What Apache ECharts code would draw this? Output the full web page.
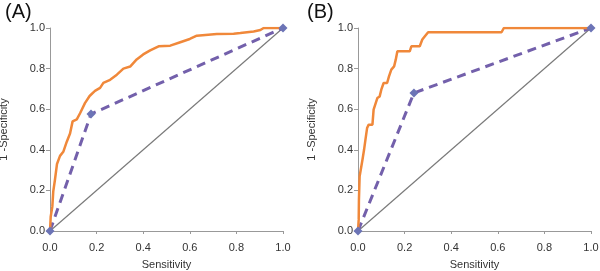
<!DOCTYPE html>
<html>
<head>
<meta charset="utf-8">
<script src="https://cdn.jsdelivr.net/npm/echarts@6/dist/echarts.min.js"></script>
<style>
  html, body { margin: 0; padding: 0; background: #fff; }
  #chart { width: 600px; height: 271px; }
</style>
</head>
<body>
<div id="chart"></div>
<script>
const panelLabels = ['(A)', '(B)']
const tickLabels = ['0.0', '0.2', '0.4', '0.6', '0.8', '1.0']

// orange ROC curves, [sensitivity, 1-specificity]
const rocA = [
  [0, 0], [0.003, 0.07], [0.01, 0.12], [0.014, 0.195], [0.021, 0.25], [0.03, 0.33],
  [0.043, 0.37], [0.057, 0.39], [0.072, 0.44], [0.086, 0.48], [0.097, 0.54],
  [0.115, 0.55], [0.129, 0.58], [0.15, 0.63], [0.17, 0.665], [0.193, 0.69],
  [0.215, 0.705], [0.229, 0.73], [0.258, 0.745], [0.287, 0.77], [0.315, 0.8],
  [0.344, 0.81], [0.372, 0.845], [0.4, 0.87], [0.43, 0.89], [0.466, 0.91],
  [0.516, 0.913], [0.559, 0.93], [0.6, 0.946], [0.63, 0.962], [0.716, 0.97],
  [0.788, 0.972], [0.817, 0.975], [0.874, 0.983], [0.903, 0.99], [0.917, 1], [1, 1]
]
const rocB = [
  [0, 0], [0.003, 0.056], [0.004, 0.154], [0.007, 0.27], [0.014, 0.277], [0.019, 0.35],
  [0.026, 0.4], [0.032, 0.45], [0.039, 0.507], [0.046, 0.524], [0.062, 0.524],
  [0.067, 0.598], [0.076, 0.63], [0.083, 0.655], [0.093, 0.663], [0.1, 0.696],
  [0.11, 0.729], [0.125, 0.729], [0.133, 0.762], [0.143, 0.795], [0.155, 0.811],
  [0.162, 0.844], [0.169, 0.885], [0.222, 0.885], [0.229, 0.91], [0.265, 0.91],
  [0.276, 0.943], [0.287, 0.959], [0.301, 0.979], [0.616, 0.979], [0.626, 1], [1, 1]
]
// purple dashed single cut-off curves
const cutA = [[0, 0], [0.176, 0.576], [1, 1]]
const cutB = [[0, 0], [0.24, 0.68], [1, 1]]
const diagonal = [[0, 0], [1, 1]]

const chart = echarts.init(document.getElementById('chart'))

const font = 'Liberation Sans, Arial, sans-serif'
const axisLine = { lineStyle: { color: '#999', width: 1 } }

const makeX = (i) => ({
  gridIndex: i, type: 'value', min: 0, max: 1, interval: 0.2,
  name: 'Sensitivity', nameLocation: 'middle', nameGap: 28,
  nameTextStyle: { color: '#333', fontSize: 11, fontFamily: font },
  axisLine, axisTick: { show: true, length: 3, lineStyle: { color: '#999' } },
  splitLine: { show: false },
  axisLabel: { color: '#333', fontSize: 11, fontFamily: font, margin: 11,
    formatter: v => tickLabels[Math.round(v * 5)] }
})
const makeY = (i) => ({
  gridIndex: i, type: 'value', min: 0, max: 1, interval: 0.2,
  name: '1 -Specificity', nameLocation: 'middle', nameGap: 41,
  nameTextStyle: { color: '#333', fontSize: 11, fontFamily: font },
  axisLine: { show: true, lineStyle: { color: '#999', width: 1 } },
  axisTick: { show: true, length: 4, lineStyle: { color: '#999' } },
  splitLine: { show: false },
  axisLabel: { color: '#333', fontSize: 11, fontFamily: font, margin: 5,
    formatter: v => tickLabels[Math.round(v * 5)] }
})

const makeSeries = (i, roc, cut) => [
  {
    type: 'line', xAxisIndex: i, yAxisIndex: i, data: diagonal,
    symbol: 'none', lineStyle: { color: '#7a7a7a', width: 1.2 }, silent: true
  },
  {
    type: 'line', xAxisIndex: i, yAxisIndex: i, data: cut,
    symbol: 'diamond', symbolSize: 9,
    itemStyle: { color: '#6c74b6' },
    lineStyle: { color: '#7360ab', width: 3, type: [9, 6] }
  },
  {
    type: 'line', xAxisIndex: i, yAxisIndex: i, data: roc,
    symbol: 'none', lineStyle: { color: '#f0883a', width: 2.5 }, z: 3
  }
]

chart.setOption({
  animation: false,
  backgroundColor: '#fff',
  title: panelLabels.map((t, i) => ({
    text: t, left: i === 0 ? 0 : 302, top: -3,
    textStyle: { fontSize: 20, fontWeight: 'normal', color: '#111', fontFamily: font }
  })),
  grid: [
    { left: 50, top: 28, width: 233, height: 203, outerBoundsMode: 'none' },
    { left: 358, top: 28, width: 233, height: 203, outerBoundsMode: 'none' }
  ],
  xAxis: [makeX(0), makeX(1)],
  yAxis: [makeY(0), makeY(1)],
  series: [...makeSeries(0, rocA, cutA), ...makeSeries(1, rocB, cutB)]
})
</script>
</body>
</html>
